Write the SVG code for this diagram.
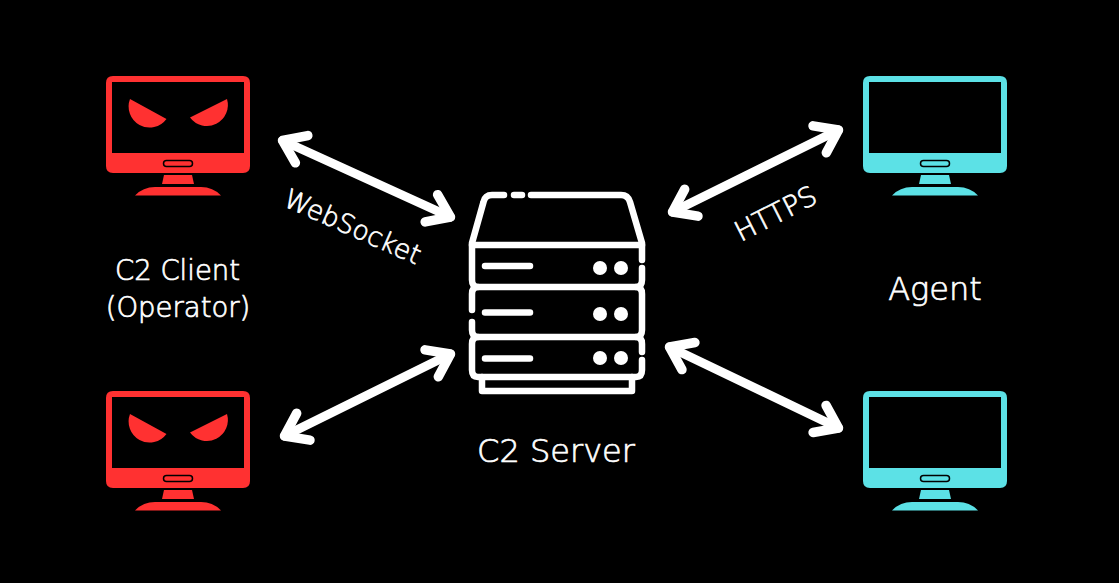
<svg xmlns="http://www.w3.org/2000/svg" width="1119" height="583" viewBox="0 0 1119 583">
<style>
text{font-family:"DejaVu Sans",sans-serif;fill:#fff;text-anchor:middle;font-weight:200;stroke:#fff;stroke-width:0.700}
.conn{stroke:#fff;stroke-width:9;fill:none;stroke-linecap:round}
.sv{stroke:#fff;stroke-width:6.500;fill:none;stroke-linecap:round;stroke-linejoin:round}
.red{fill:#ff3131}
.cyan{fill:#5ce1e6}
</style>
<defs>
<marker id="head" markerUnits="userSpaceOnUse" orient="auto-start-reverse" refX="0" refY="0" markerWidth="70" markerHeight="70" viewBox="-35 -35 70 70" overflow="visible">
<path d="M-21 -15L0 0L-21 15" fill="none" stroke="#fff" stroke-width="9.500" stroke-linecap="round" stroke-linejoin="round"/>
</marker>
<g id="monitor">
<path fill-rule="evenodd" d="M113 76H243Q250 76 250 83V166Q250 173 243 173H113Q106 173 106 166V83Q106 76 113 76ZM112 82V153H244V82Z"/>
<path d="M164 175H192L194 184H162Z"/>
<path d="M135 195.500Q143 187 155 187H201Q213 187 221 195.500Z"/>
<rect x="163.500" y="160.500" width="29" height="6" rx="3" fill="none" stroke="#000" stroke-width="1.500"/>
</g>
<g id="eyes">
<path d="M130 99L166.500 119A21 21 0 0 1 130 99Z"/>
<path d="M227 99L190 117.500A21 21 0 0 0 227 99Z"/>
</g>
</defs>
<rect width="1119" height="583" fill="#000"/>
<g id="connectors">
<line class="conn" x1="282.500" y1="140.500" x2="450.500" y2="217" marker-start="url(#head)" marker-end="url(#head)"/>
<line class="conn" x1="838.500" y1="130" x2="672.500" y2="212" marker-start="url(#head)" marker-end="url(#head)"/>
<line class="conn" x1="450.500" y1="354" x2="284.500" y2="436" marker-start="url(#head)" marker-end="url(#head)"/>
<line class="conn" x1="669.500" y1="347" x2="838.500" y2="428" marker-start="url(#head)" marker-end="url(#head)"/>
</g>
<g id="client-top" class="red"><use href="#monitor"/><use href="#eyes"/></g>
<g id="client-bottom" class="red" transform="translate(0 315)"><use href="#monitor"/><use href="#eyes"/></g>
<g id="agent-top" class="cyan" transform="translate(757 0)"><use href="#monitor"/></g>
<g id="agent-bottom" class="cyan" transform="translate(757 315)"><use href="#monitor"/></g>
<g id="server">
<path class="sv" d="M504 195H492Q485 195 483.500 202L472 243V280Q472 287 478 287H636Q642 287 642 280V268M642 260V243L630 202Q628 195 621 195H531M514 195H522"/>
<path class="sv" d="M472 245H642"/>
<path class="sv" d="M472 310V294Q472 287 478 287M636 287Q642 287 642 294V330Q642 337 636 337H478Q472 337 472 330V322"/>
<path class="sv" d="M478 337Q472 337 472 344V370Q472 377 478 377H636Q642 377 642 370V360M642 352V344Q642 337 636 337"/>
<path class="sv" d="M482 377V391H632V377"/>
<path class="sv" d="M485 266H530M485 312.500H530M485 358.500H530"/>
<g fill="#fff"><circle cx="600" cy="268" r="7"/><circle cx="621" cy="268" r="7"/><circle cx="600" cy="314" r="7"/><circle cx="621" cy="314" r="7"/><circle cx="600" cy="358" r="7"/><circle cx="621" cy="358" r="7"/></g>
</g>
<g id="labels">
<text x="177.500" y="280" font-size="27.500">C2 Client</text>
<text x="178" y="317" font-size="27.500">(Operator)</text>
<text x="935" y="300" font-size="32">Agent</text>
<text x="556" y="462" font-size="32">C2 Server</text>
<text x="349" y="235" font-size="26.500" transform="rotate(24 349 235)">WebSocket</text>
<text x="780" y="222" font-size="27.500" transform="rotate(-27 780 222)">HTTPS</text>
</g>
</svg>
